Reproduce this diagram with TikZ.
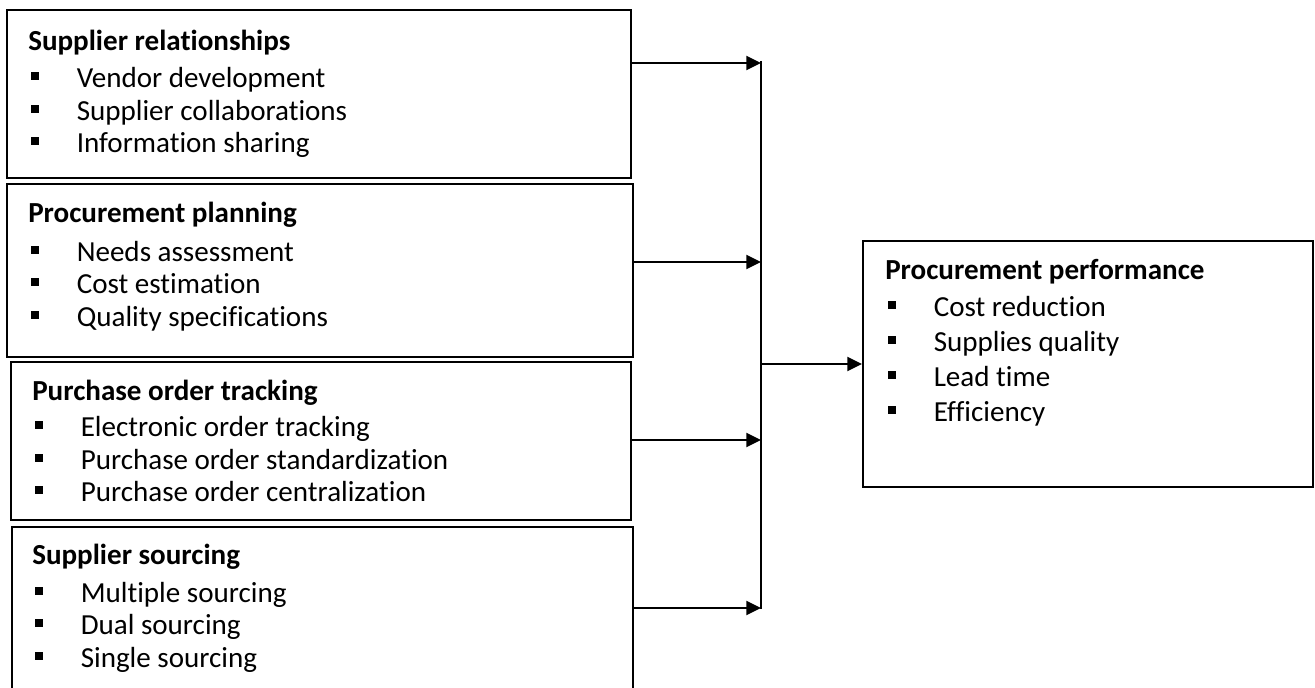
\documentclass[tikz,border=0pt]{standalone}
\usepackage{fontspec}
\setmainfont{Carlito}[Ligatures=NoCommon]
\usetikzlibrary{arrows.meta}

\newlength\pxu
\setlength\pxu{0.75pt}
\newcommand\blt{\makebox[48.5\pxu][l]{\hspace{2.5\pxu}\rule[7.5\pxu]{8\pxu}{8\pxu}}}

\tikzset{
  box/.style={draw, line width=2\pxu, anchor=north west, inner sep=0pt},
  txt/.style={anchor=north west, align=left, inner sep=0pt,
    font=\fontsize{21.8pt}{24.4pt}\selectfont},
  arr/.style={-{Triangle[length=11pt,width=10.5pt]}, line width=2\pxu}
}

\begin{document}
\begin{tikzpicture}[x=0.75pt,y=-0.75pt]
\useasboundingbox (0,0) rectangle (1315,688);
\clip (0,0) rectangle (1315,688);

% left boxes
\node[box, minimum width=624\pxu, minimum height=168\pxu] (rel) at (6,9) {};
\node[box, minimum width=626\pxu, minimum height=173\pxu] (plan) at (6,183) {};
\node[box, minimum width=620\pxu, minimum height=158\pxu] (track) at (10,361) {};
\node[box, minimum width=621\pxu, minimum height=180\pxu] (src) at (11,526) {};

% right box
\node[box, minimum width=450\pxu, minimum height=246\pxu] (perf) at (862,240) {};

% texts
\node[txt] (relt) at ([shift={(22,20.5)}]rel.north west) {\textbf{Supplier relationships}\\[5\pxu]
  \blt Vendor development\\ \blt Supplier collaborations\\ \blt Information sharing};
\node[txt] (plant) at ([shift={(22,19)}]plan.north west) {\textbf{Procurement planning}\\[6\pxu]
  \blt Needs assessment\\ \blt Cost estimation\\ \blt Quality specifications};
\node[txt] (trackt) at ([shift={(22,18.5)}]track.north west) {\textbf{Purchase order tracking}\\[4\pxu]
  \blt Electronic order tracking\\ \blt Purchase order standardization\\ \blt Purchase order centralization};
\node[txt] (srct) at ([shift={(21,18)}]src.north west) {\textbf{Supplier sourcing}\\[5\pxu]
  \blt Multiple sourcing\\ \blt Dual sourcing\\ \blt Single sourcing};
\node[txt, font=\fontsize{21.8pt}{26.25pt}\selectfont] (perft) at ([shift={(23,19.5)}]perf.north west)
  {\textbf{Procurement performance}\\[2\pxu]
  \blt Cost reduction\\ \blt Supplies quality\\ \blt Lead time\\ \blt Efficiency};

% bus line
\coordinate (bustop) at (761,61);
\coordinate (busbot) at (761,609);
\draw[line width=2\pxu] (bustop) -- (busbot);

% arrows into bus
\coordinate (a1) at (rel.east |- 0,63);
\coordinate (a2) at (plan.east |- 0,262);
\coordinate (a3) at (track.east |- 0,440);
\coordinate (a4) at (src.east |- 0,608);
\foreach \a in {a1,a2,a3,a4}
  \draw[arr] (\a) -- (\a -| bustop);

% arrow to outcome
\draw[arr] (perf.west -| bustop) -- (perf.west);
\end{tikzpicture}
\end{document}
